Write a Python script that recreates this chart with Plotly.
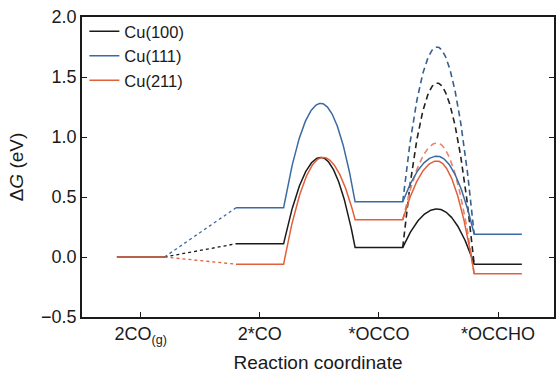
import numpy as np
import plotly.graph_objects as go

# ---- data ----
states = ["2CO<sub>(g)</sub>", "2*CO", "*OCCO", "*OCCHO"]
series = ["Cu(100)", "Cu(111)", "Cu(211)"]
G_100 = [0.0, 0.11, 0.08, -0.06]
G_111 = [0.0, 0.41, 0.46, 0.19]
G_211 = [0.0, -0.06, 0.31, -0.14]
TS1 = [0.83, 1.28, 0.83]            # 2*CO -> *OCCO barrier top
TS2_solid = [0.40, 0.84, 0.80]      # *OCCO -> *OCCHO (solid)
TS2_dashed = [1.45, 1.75, 0.95]     # *OCCO -> *OCCHO (dashed)

colors = ["#1a1a1a", "#3b6aa3", "#e0603a"]
dash_colors = ["#222222", "#35608f", "#e8846a"]

HW = 0.2  # plateau half width


def hump(x0, y0, x1, y1, yp, frac=0.52, n=60):
    xp = x0 + frac * (x1 - x0)
    xa = np.linspace(x0, xp, n)
    ya = yp - (yp - y0) * ((xa - xp) / (xp - x0)) ** 2
    xb = np.linspace(xp, x1, n)[1:]
    yb = yp - (yp - y1) * ((xb - xp) / (x1 - xp)) ** 2
    return list(xa) + list(xb), list(ya) + list(yb)


fig = go.Figure()
levels = [G_100, G_111, G_211]
draw_order = [0, 1, 2]
for i in draw_order:
    G = levels[i]
    c = colors[i]
    # dotted connector
    fig.add_trace(go.Scatter(x=[0 + HW, 1 - HW], y=[G[0], G[1]], mode="lines",
                             line=dict(color=c, width=1.3, dash="dot"),
                             showlegend=False, hoverinfo="skip"))
    # dashed hump 2
    hx, hy = hump(2 + HW, G[2], 3 - HW, G[3], TS2_dashed[i], frac=0.48)
    fig.add_trace(go.Scatter(x=hx, y=hy, mode="lines",
                             line=dict(color=dash_colors[i], width=1.6, dash="6px,4px"),
                             showlegend=False, hoverinfo="skip"))

for i in draw_order:
    G = levels[i]
    c = colors[i]
    xs, ys = [], []
    for k in range(4):
        xs += [k - HW, k + HW]
        ys += [G[k], G[k]]
        if k == 1:
            hx, hy = hump(1 + HW, G[1], 2 - HW, G[2], TS1[i], frac=0.52 if i != 2 else 0.55)
            xs += hx[1:-1]
            ys += hy[1:-1]
        if k == 2:
            hx, hy = hump(2 + HW, G[2], 3 - HW, G[3], TS2_solid[i], frac=0.48)
            xs += hx[1:-1]
            ys += hy[1:-1]
    # break between plateau 0 and 1 (dotted connector handles it)
    xs = xs[:2] + [None] + xs[2:]
    ys = ys[:2] + [None] + ys[2:]
    fig.add_trace(go.Scatter(x=xs, y=ys, mode="lines", name=series[i],
                             line=dict(color=c, width=1.5), connectgaps=False,
                             hoverinfo="skip"))

font = "Liberation Sans, Arial, Helvetica, sans-serif"
fig.update_layout(
    width=556, height=373,
    margin=dict(l=82, r=0, t=17, b=56),
    paper_bgcolor="white", plot_bgcolor="white",
    font=dict(family=font, size=18, color="#1a1a1a"),
    showlegend=True,
    legend=dict(x=0.005, y=1.01, xanchor="left", yanchor="top",
                bgcolor="rgba(0,0,0,0)", font=dict(size=16.5),
                itemwidth=30),
    xaxis=dict(range=[-0.493, 3.47], tickmode="array", tickvals=[0, 1, 2, 3],
               ticktext=states, showline=True, linecolor="#1a1a1a", linewidth=1.5,
               mirror=True, ticks="inside", ticklen=5, tickcolor="#1a1a1a",
               showgrid=False, zeroline=False, tickfont=dict(size=18),
               title=dict(text="Reaction coordinate", standoff=12,
                          font=dict(size=19))),
    yaxis=dict(range=[-0.5, 2.0], tickvals=[-0.5, 0, 0.5, 1.0, 1.5, 2.0],
               tickformat=".1f", showline=True, linecolor="#1a1a1a", linewidth=1.5,
               mirror="ticks", ticks="inside", ticklen=5, tickcolor="#1a1a1a",
               showgrid=False, zeroline=False, tickfont=dict(size=18),
               title=dict(text="Δ<i>G</i> (eV)", standoff=12, font=dict(size=19))),
)

fig.write_html("out.html")
